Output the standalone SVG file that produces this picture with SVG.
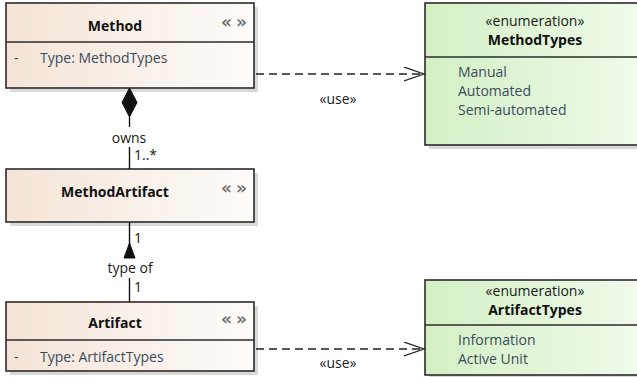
<svg xmlns="http://www.w3.org/2000/svg" width="637" height="377" viewBox="0 0 637 377">
<defs>
<linearGradient id="gClass" x1="0" y1="0" x2="1" y2="0">
<stop offset="0" stop-color="#f4e4d7"/>
<stop offset="1" stop-color="#fdfbf9"/>
</linearGradient>
<linearGradient id="gEnum" x1="0" y1="0" x2="1" y2="0">
<stop offset="0" stop-color="#d3efc4"/>
<stop offset="1" stop-color="#f1fbec"/>
</linearGradient>
<marker id="open" markerWidth="22" markerHeight="16" refX="20" refY="7" orient="auto" markerUnits="userSpaceOnUse">
<path d="M0,0 L20,7 L0,14" fill="none" stroke="#222" stroke-width="1.2"/>
</marker>
</defs>
<style>
.box{stroke:#2b2b2b;stroke-width:1.6}
.cls{fill:url(#gClass)}
.enm{fill:url(#gEnum)}
.shadow{fill:#d9d9d9}
.div{stroke:#2b2b2b;stroke-width:1.6}
.title{font-family:"Open Sans","Noto Sans",sans-serif;font-weight:bold;font-size:14px;fill:#111}
.attr{font-family:"Open Sans","Noto Sans",sans-serif;font-size:14px;fill:#3b4b5a}
.lbl{font-family:"Open Sans","Noto Sans",sans-serif;font-size:14px;fill:#1a1a1a}
.icon{font-family:"DejaVu Sans",sans-serif;font-size:17px;font-weight:bold;fill:#6e6e6e;letter-spacing:4px}
.line{stroke:#111;stroke-width:1.4;fill:none}
.dash{stroke:#222;stroke-width:1.4;fill:none;stroke-dasharray:8,5}
</style>

<g id="Method">
<rect class="shadow" x="10" y="7" width="248" height="85"/>
<rect class="box cls" x="6" y="3" width="248" height="85"/>
<line class="div" x1="6" y1="42" x2="254" y2="42"/>
<text class="title" x="115" y="31" text-anchor="middle">Method</text>
<text class="icon" x="236" y="28" text-anchor="middle">«»</text>
<text class="attr" x="14" y="63">-</text>
<text class="attr" x="40" y="63">Type: MethodTypes</text>
</g>

<g id="MethodArtifact">
<rect class="shadow" x="10" y="173" width="248" height="53"/>
<rect class="box cls" x="6" y="169" width="248" height="53"/>
<text class="title" x="115" y="197" text-anchor="middle">MethodArtifact</text>
<text class="icon" x="236" y="194" text-anchor="middle">«»</text>
</g>

<g id="Artifact">
<rect class="shadow" x="10" y="306" width="248" height="69"/>
<rect class="box cls" x="6" y="302" width="248" height="69"/>
<line class="div" x1="6" y1="340" x2="254" y2="340"/>
<text class="title" x="115" y="328" text-anchor="middle">Artifact</text>
<text class="icon" x="236" y="325" text-anchor="middle">«»</text>
<text class="attr" x="14" y="362">-</text>
<text class="attr" x="40" y="362">Type: ArtifactTypes</text>
</g>

<g id="MethodTypes">
<rect class="shadow" x="429" y="7" width="220" height="142"/>
<rect class="box enm" x="425" y="3" width="220" height="142"/>
<line class="div" x1="425" y1="57" x2="645" y2="57"/>
<text class="lbl" x="535" y="26" text-anchor="middle">«enumeration»</text>
<text class="title" x="535" y="45" text-anchor="middle">MethodTypes</text>
<text class="attr" x="458" y="77">Manual</text>
<text class="attr" x="458" y="96">Automated</text>
<text class="attr" x="458" y="115">Semi-automated</text>
</g>

<g id="ArtifactTypes">
<rect class="shadow" x="429" y="284" width="220" height="95"/>
<rect class="box enm" x="425" y="280" width="220" height="95"/>
<line class="div" x1="425" y1="325" x2="645" y2="325"/>
<text class="lbl" x="535" y="296" text-anchor="middle">«enumeration»</text>
<text class="title" x="535" y="315" text-anchor="middle">ArtifactTypes</text>
<text class="attr" x="458" y="345">Information</text>
<text class="attr" x="458" y="364">Active Unit</text>
</g>

<g id="connectors">
<path d="M129.5,88 L137,102.5 L129.5,117 L122,102.5 Z" fill="#111" stroke="#111" stroke-width="1"/>
<line class="line" x1="129.5" y1="117" x2="129.5" y2="127"/>
<line class="line" x1="129.5" y1="147" x2="129.5" y2="169"/>
<text class="lbl" x="129" y="143" text-anchor="middle">owns</text>
<text class="lbl" x="134" y="160">1..*</text>

<line class="line" x1="129.5" y1="222" x2="129.5" y2="245"/>
<path d="M129.5,243 L135,258 L124,258 Z" fill="#111" stroke="#111" stroke-width="1"/>
<text class="lbl" x="134" y="243">1</text>
<text class="lbl" x="130" y="273" text-anchor="middle">type of</text>
<line class="line" x1="129.5" y1="278" x2="129.5" y2="302"/>
<text class="lbl" x="134" y="292">1</text>

<line class="dash" x1="256" y1="74" x2="424" y2="74" marker-end="url(#open)"/>
<text class="lbl" x="338" y="104" text-anchor="middle">«use»</text>
<line class="dash" x1="256" y1="349" x2="424" y2="349" marker-end="url(#open)"/>
<text class="lbl" x="338" y="368" text-anchor="middle">«use»</text>
</g>
</svg>
